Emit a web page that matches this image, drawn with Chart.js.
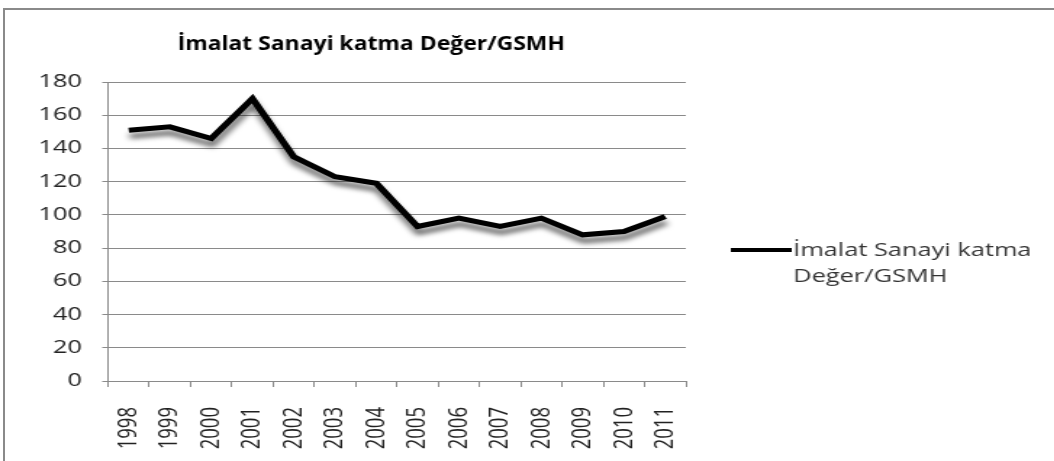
<!DOCTYPE html>
<html>
<head>
<meta charset="utf-8">
<script src="https://cdn.jsdelivr.net/npm/chart.js@4"></script>
<style>
  body { margin: 0; background: #fff; }
  #wrap { position: relative; width: 1054px; height: 461px; overflow: hidden; }
  #frame { position: absolute; left: 3px; top: 8px; width: 1060px; height: 470px; border: 2px solid #8a8a8a; box-sizing: border-box; }
  /* the source picture is stretched sideways, so the canvas is too */
  #stretch { position: absolute; left: 0; top: 0; width: 727px; height: 461px; transform: scaleX(1.45); transform-origin: 0 0; }
  canvas { display: block; }
</style>
</head>
<body>
<div id="wrap">
  <div id="frame"></div>
  <div id="stretch"><canvas id="chart" width="727" height="461"></canvas></div>
</div>
<script>
const years = ['1998', '1999', '2000', '2001', '2002', '2003', '2004', '2005', '2006', '2007', '2008', '2009', '2010', '2011'];
const values = [151, 153, 146, 170, 135, 123, 119, 93, 98, 93, 98, 88, 90, 99];
const seriesName = 'İmalat Sanayi katma Değer/GSMH';
const legendLines = ['İmalat Sanayi katma', 'Değer/GSMH'];
const yTicks = [0, 20, 40, 60, 80, 100, 120, 140, 160, 180];

const FONT = '"Open Sans", "DejaVu Sans", sans-serif';

// shadow under the line, like the Excel effect
const lineShadow = {
  id: 'lineShadow',
  beforeDatasetDraw(chart) {
    const c = chart.ctx;
    c.save();
    c.shadowColor = 'rgba(0,0,0,0.6)';
    c.shadowBlur = 5;
    c.shadowOffsetX = 0.7;
    c.shadowOffsetY = 6;
  },
  afterDatasetDraw(chart) {
    chart.ctx.restore();
  }
};

// title and right-side legend drawn as text
const extras = {
  id: 'extras',
  afterDraw(chart) {
    const c = chart.ctx;
    c.save();
    c.fillStyle = '#000';
    c.font = 'bold 20px ' + FONT;
    c.textAlign = 'center';
    c.textBaseline = 'middle';
    c.translate(256, 44);
    c.scale(0.79, 1); // title is less stretched than the rest
    c.fillText(seriesName, 0, 0);
    c.restore();

    c.save();
    const ds = chart.data.datasets[0];
    c.strokeStyle = ds.borderColor;
    c.lineWidth = 4;
    c.beginPath();
    c.moveTo(504, 250);
    c.lineTo(546, 250);
    c.stroke();

    c.fillStyle = '#333';
    c.font = '17.5px ' + FONT;
    c.textAlign = 'left';
    c.textBaseline = 'middle';
    legendLines.forEach((t, i) => c.fillText(t, 547, 251 + i * 26));
    c.restore();
  }
};

const ctx = document.getElementById('chart').getContext('2d');
new Chart(ctx, {
  type: 'line',
  data: {
    labels: years,
    datasets: [{
      label: seriesName,
      data: values,
      borderColor: '#000',
      borderWidth: 5,
      pointRadius: 0,
      tension: 0,
      fill: false
    }]
  },
  options: {
    responsive: false,
    animation: false,
    layout: { padding: { left: 4, right: 254, top: 82, bottom: 0 } },
    plugins: {
      legend: { display: false },
      title: { display: false },
      tooltip: { enabled: false }
    },
    scales: {
      x: {
        offset: true,
        afterFit: (s) => { s.height = 80; },
        grid: { offset: true, drawOnChartArea: false, drawTicks: true, tickLength: 6, color: '#8a8a8a' },
        border: { color: '#8a8a8a', width: 1 },
        ticks: { color: '#222', font: { family: FONT, size: 18.5 }, minRotation: 90, maxRotation: 90, padding: 20 }
      },
      y: {
        min: 0,
        max: 180,
        afterFit: (s) => { s.width = 70.5; },
        afterBuildTicks: (s) => { s.ticks = yTicks.map(v => ({ value: v })); },
        grid: { color: '#8a8a8a', tickLength: 4 },
        border: { color: '#8a8a8a', width: 1 },
        ticks: { color: '#222', font: { family: FONT, size: 17.5 }, padding: 14 }
      }
    }
  },
  plugins: [lineShadow, extras]
});
</script>
</body>
</html>
